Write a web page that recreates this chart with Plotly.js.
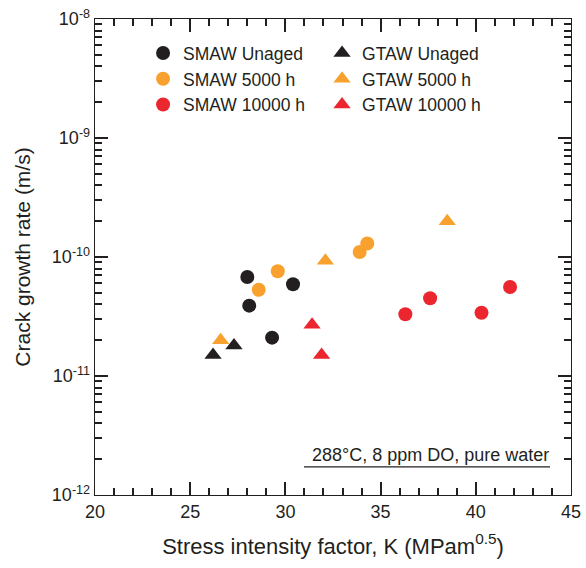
<!DOCTYPE html>
<html>
<head>
<meta charset="utf-8">
<script src="https://cdn.plot.ly/plotly-3.0.1.min.js"></script>
<style>html,body{margin:0;padding:0;background:#fff;}#chart{width:586px;height:568px;}</style>
</head>
<body>
<div id="chart"></div>
<script>
// Data
const smawUnagedK = [28.0, 28.1, 30.4, 29.3];
const smawUnagedRate = [6.8e-11, 3.9e-11, 5.9e-11, 2.1e-11];
const smaw5000K = [29.6, 28.6, 33.9, 34.3];
const smaw5000Rate = [7.6e-11, 5.3e-11, 1.1e-10, 1.3e-10];
const smaw10000K = [36.3, 37.6, 40.3, 41.8];
const smaw10000Rate = [3.3e-11, 4.5e-11, 3.4e-11, 5.6e-11];
const gtawUnagedK = [26.2, 27.3];
const gtawUnagedRate = [1.5e-11, 1.8e-11];
const gtaw5000K = [26.6, 32.1, 38.5];
const gtaw5000Rate = [2.0e-11, 9.3e-11, 2.0e-10];
const gtaw10000K = [31.4, 31.9];
const gtaw10000Rate = [2.7e-11, 1.5e-11];

const seriesNames = ["SMAW Unaged", "SMAW 5000 h", "SMAW 10000 h", "GTAW Unaged", "GTAW 5000 h", "GTAW 10000 h"];
const yTickVals = [1e-12, 1e-11, 1e-10, 1e-9, 1e-8];
const yTickText = ["10<sup>-12</sup>", "10<sup>-11</sup>", "10<sup>-10</sup>", "10<sup>-9</sup>", "10<sup>-8</sup>"];
const noteText = "288°C, 8 ppm DO, pure water";

const BLACK = "#231f20", ORANGE = "#f9a12e", RED = "#ec262f";
const txt = "#231f20";

function tr(x, y, name, color, symbol, legend) {
  return {
    type: "scatter", mode: "markers", x: x, y: y, name: name, legend: legend,
    marker: {color: color, symbol: symbol, size: symbol === "circle" ? 14 : 15, line: {width: 0}},
    hoverinfo: "x+y+name"
  };
}

const data = [
  tr(smawUnagedK, smawUnagedRate, seriesNames[0], BLACK, "circle", "legend"),
  tr(smaw5000K, smaw5000Rate, seriesNames[1], ORANGE, "circle", "legend"),
  tr(smaw10000K, smaw10000Rate, seriesNames[2], RED, "circle", "legend"),
  tr(gtawUnagedK, gtawUnagedRate, seriesNames[3], BLACK, "triangle-up", "legend2"),
  tr(gtaw5000K, gtaw5000Rate, seriesNames[4], ORANGE, "triangle-up", "legend2"),
  tr(gtaw10000K, gtaw10000Rate, seriesNames[5], RED, "triangle-up", "legend2")
];

const fam = "Liberation Sans, Arial, sans-serif";
const font = {family: fam, color: txt, size: 18};
const legendCommon = {
  font: {family: fam, size: 17.5, color: txt},
  bgcolor: "rgba(0,0,0,0)", borderwidth: 0,
  xanchor: "left", yanchor: "top", y: 0.966, tracegroupgap: 0
};

const layout = {
  width: 586, height: 568,
  margin: {l: 95, r: 15, t: 19, b: 73},
  paper_bgcolor: "#fff", plot_bgcolor: "#fff",
  font: font,
  showlegend: true,
  legend: Object.assign({}, legendCommon, {x: 0.101}),
  legend2: Object.assign({}, legendCommon, {x: 0.477}),
  xaxis: {
    range: [20, 45], dtick: 5, tick0: 20,
    ticks: "inside", ticklen: 13, tickwidth: 2, tickcolor: txt,
    minor: {dtick: 1, ticks: "inside", ticklen: 7, tickwidth: 2, tickcolor: txt},
    showline: true, linecolor: txt, linewidth: 1.3, mirror: "ticks",
    showgrid: false, zeroline: false,
    tickfont: {size: 18, color: txt},
    title: {text: "Stress intensity factor, K (MPam<sup>0.5</sup>)", font: {size: 22, color: txt}, standoff: 17}
  },
  yaxis: {
    type: "log", range: [-12, -8],
    tickvals: yTickVals, ticktext: yTickText,
    ticks: "inside", ticklen: 13, tickwidth: 2, tickcolor: txt,
    minor: {dtick: "D1", ticks: "inside", ticklen: 7, tickwidth: 2, tickcolor: txt},
    showline: true, linecolor: txt, linewidth: 1.3, mirror: "ticks",
    showgrid: false, zeroline: false,
    tickfont: {size: 18, color: txt},
    title: {text: "Crack growth rate (m/s)", font: {size: 21, color: txt}, standoff: 15}
  },
  annotations: [{
    xref: "paper", yref: "paper", x: 0.958, y: 0.084, xanchor: "right", yanchor: "middle",
    text: noteText, showarrow: false, font: {size: 18, color: txt}
  }],
  shapes: [{
    type: "line", xref: "paper", yref: "paper", x0: 0.439, x1: 0.956, y0: 0.059, y1: 0.059,
    line: {color: txt, width: 1.2}
  }]
};

Plotly.newPlot("chart", data, layout, {displayModeBar: false, staticPlot: true});
</script>
</body>
</html>
